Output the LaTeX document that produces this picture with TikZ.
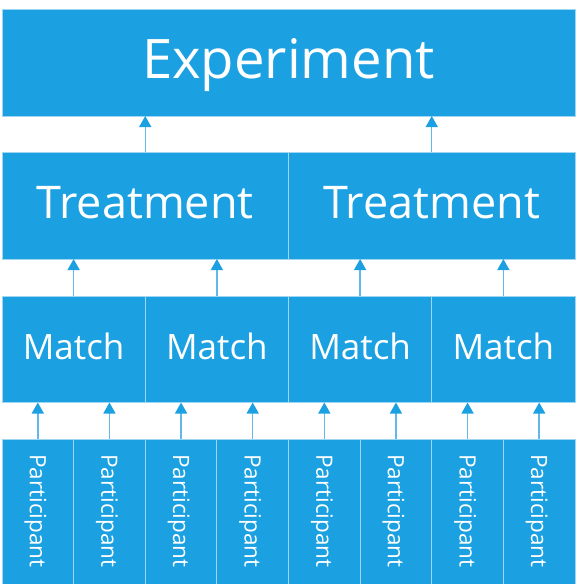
\documentclass[tikz,border=0pt]{standalone}
\usepackage{fontspec}
\setmainfont{Open Sans}
\usetikzlibrary{arrows.meta}
\definecolor{mblue}{RGB}{27,161,226}
\definecolor{mborder}{RGB}{160,214,242}
\definecolor{mshaft}{RGB}{100,185,234}
\tikzset{
  box/.style={fill=mblue, draw=mborder, line width=0.8pt, inner sep=0pt, outer sep=0pt},
  lbl/.style={text=white, inner sep=0pt, anchor=base},
  arr/.style={draw=mshaft, line width=1.4pt, -{Triangle[width=12pt,length=11pt,color=mblue]}},
}
\begin{document}
\begin{tikzpicture}[x=1pt,y=-1pt]
\useasboundingbox (0,0) rectangle (577,584);
% experiment
\node[box, minimum width=573pt, minimum height=107pt] (exp) at (288.5,62.5) {};
\node[lbl, font=\fontsize{54.5}{60}\selectfont] (expl) at (288.5,78) {Experiment};
% treatments
\foreach \i/\cx in {1/145.25, 2/431.75}{
  \node[box, minimum width=286.5pt, minimum height=107pt] (t\i) at (\cx,205.5) {};
  \node[lbl, font=\fontsize{45}{50}\selectfont] (tl\i) at (\cx,218) {Treatment};
}
% matches
\foreach \i in {1,...,4}{
  \pgfmathsetmacro{\cx}{2+143.25*(\i-0.5)}
  \node[box, minimum width=143.25pt, minimum height=106.5pt] (m\i) at (\cx,349.25) {};
  \node[lbl, font=\fontsize{35}{40}\selectfont] (ml\i) at (\cx,359) {Match};
}
% participants
\foreach \i in {1,...,8}{
  \pgfmathsetmacro{\cx}{2+71.625*(\i-0.5)}
  \node[box, minimum width=71.625pt, minimum height=146pt] (p\i) at (\cx,512) {};
  \node[lbl, rotate=-90, font=\fontsize{22.5}{26}\selectfont] (pl\i) at (\cx-8,511) {Participant};
}
% arrows
\draw[arr] (t1.north) -- (exp.south -| t1.north);
\draw[arr] (t2.north) -- (exp.south -| t2.north);
\foreach \i/\t in {1/1,2/1,3/2,4/2}{
  \draw[arr] (m\i.north) -- (t\t.south -| m\i.north);
}
\foreach \i/\m in {1/1,2/1,3/2,4/2,5/3,6/3,7/4,8/4}{
  \draw[arr] (p\i.north) -- (m\m.south -| p\i.north);
}
\end{tikzpicture}
\end{document}
